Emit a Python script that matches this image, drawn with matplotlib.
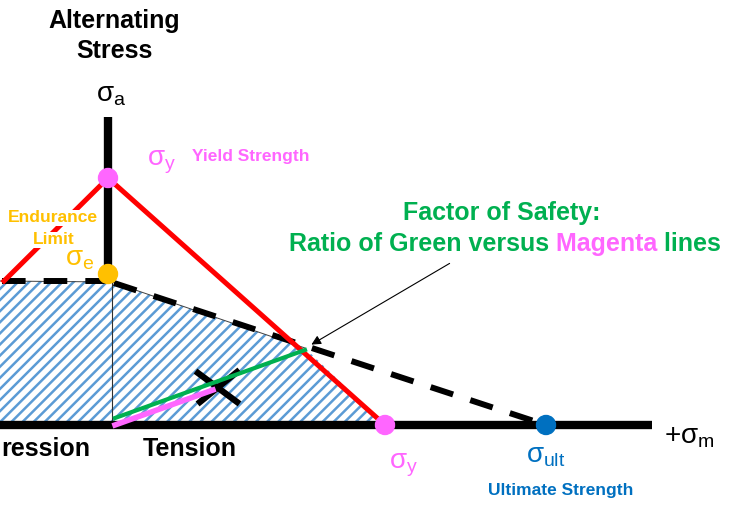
import matplotlib
matplotlib.use("Agg")
import matplotlib.pyplot as plt
from matplotlib.patches import Polygon, Circle

plt.rcParams['font.family'] = ['Liberation Sans', 'DejaVu Sans']
plt.rcParams['mathtext.fontset'] = 'custom'
plt.rcParams['mathtext.rm'] = 'Liberation Sans'
plt.rcParams['mathtext.it'] = 'Liberation Sans'
plt.rcParams['mathtext.bf'] = 'Liberation Sans:bold'
plt.rcParams['hatch.linewidth'] = 1.8
plt.rcParams['lines.scale_dashes'] = False

# ---- diagram values (canvas units, y grows downward) ----
origin = (108, 425)            # (sigma_m = 0, sigma_a = 0)
axis_x_end = 652
axis_y_top = 117
yield_a = (108, 178)           # yield strength on the alternating axis
yield_m = (385, 425)           # yield strength on the mean axis
endurance_dot = (108, 274)     # endurance limit marker
endurance_y = 281              # Goodman line height at sigma_m <= 0
ultimate = (546, 425)          # ultimate strength on the mean axis
left_edge = 2
red_left_start = (4, 281)
split_x = 112
op_point = (305, 348)          # operating limit point (Goodman / Langer crossing)
green_start = (115, 418)
magenta_line = [(115, 425), (213, 390)]
cross_a = [(198, 373), (237, 402)]
cross_b = [(200, 402), (237, 372)]
arrow_tail = (452, 262)
arrow_head = (309, 346)

C_RED = '#FF0000'
C_MAG = '#FF66FF'
C_ORANGE = '#FFC000'
C_BLUE = '#0070C0'
C_GREEN = '#00B050'
C_HATCH = '#5B9BD5'

fig = plt.figure(figsize=(7.40, 5.07), dpi=100)
ax = fig.add_axes([0, 0, 1, 1])
ax.set_xlim(0, 740)
ax.set_ylim(507, 0)
ax.axis('off')

# hatched safe region
left_poly = Polygon([(-10, endurance_y), (split_x, endurance_y), (split_x, origin[1]), (-10, origin[1])],
                    closed=True, facecolor='white', edgecolor=C_HATCH, hatch='///', lw=0, zorder=1)
ax.add_patch(left_poly)
right_poly = Polygon([(split_x, endurance_y + 1), op_point, yield_m, (split_x, origin[1])],
                     closed=True, facecolor='white', edgecolor=C_HATCH, hatch='///', lw=0, zorder=1)
ax.add_patch(right_poly)
# thin outlines
ax.plot([0, split_x, op_point[0]], [endurance_y, endurance_y + 1, op_point[1]], color='#404040', lw=0.7, zorder=2)
ax.plot([split_x, split_x], [endurance_y + 1, origin[1]], color='#303030', lw=0.8, zorder=2)

# dashed Goodman line
ax.plot([left_edge, origin[0]], [endurance_y, endurance_y], color='black', lw=4.3,
        dashes=(17, 13), zorder=3, dash_capstyle='butt')
ax.plot([origin[0] + 6, ultimate[0]], [endurance_y + 2, ultimate[1]], color='black', lw=4.3,
        dashes=(17, 13), zorder=3, dash_capstyle='butt')

# red yield (Langer) lines
ax.plot([red_left_start[0], yield_a[0], yield_m[0]], [red_left_start[1], yield_a[1], yield_m[1]],
        color=C_RED, lw=3.6, zorder=4, solid_joinstyle='miter')

# axes
ax.plot([origin[0], origin[0]], [axis_y_top, endurance_dot[1]], color='black', lw=6, zorder=5, solid_capstyle='butt')
ax.plot([0, axis_x_end], [origin[1], origin[1]], color='black', lw=6, zorder=5, solid_capstyle='butt')

# green / magenta lines
ax.plot([green_start[0], op_point[0]], [green_start[1], op_point[1] + 2], color=C_GREEN, lw=3, zorder=6)
ax.plot([p[0] for p in magenta_line], [p[1] for p in magenta_line], color=C_MAG, lw=4, zorder=6)

# cross
for seg in (cross_a, cross_b):
    ax.plot([seg[0][0], seg[1][0]], [seg[0][1], seg[1][1]], color='black', lw=4.5, zorder=5)

# dots
for (pt, col) in [(yield_a, C_MAG), (endurance_dot, C_ORANGE), (yield_m, C_MAG), (ultimate, C_BLUE)]:
    ax.add_patch(Circle(pt, 9.5, color=col, zorder=8))

# arrow
ax.annotate('', xy=arrow_head, xytext=arrow_tail,
            arrowprops=dict(arrowstyle='-|>', color='black', lw=0.8, mutation_scale=14), zorder=9)

# texts
ax.text(114, 21, 'Alternating', ha='center', va='center', fontsize=18, fontweight='bold')
ax.text(114, 51, 'Stress', ha='center', va='center', fontsize=18, fontweight='bold')
ax.text(96, 95, r'$\sigma_{\rm a}$', ha='left', va='center', fontsize=20, color='black')
ax.text(147, 162, r'$\sigma_{\rm y}$', ha='left', va='center', fontsize=20, color=C_MAG)
ax.text(192, 157, 'Yield Strength', ha='left', va='center', fontsize=12.5, fontweight='bold', color=C_MAG)
bb = dict(facecolor='white', edgecolor='none', pad=0.5)
ax.text(53, 218, 'Endurance', ha='center', va='center', fontsize=12.6, fontweight='bold',
        color=C_ORANGE, bbox=bb, zorder=7)
ax.text(54, 240, 'Limit', ha='center', va='center', fontsize=12.6, fontweight='bold',
        color=C_ORANGE, bbox=bb, zorder=7)
ax.text(65, 259, r'$\sigma_{\rm e}$', ha='left', va='center', fontsize=20, color=C_ORANGE, zorder=9)

ax.text(502, 213, 'Factor of Safety:', ha='center', va='center', fontsize=18, fontweight='bold', color=C_GREEN)
t1 = ax.text(289, 251, 'Ratio of Green versus', ha='left', va='baseline', fontsize=18,
             fontweight='bold', color=C_GREEN)
t2 = ax.annotate(' Magenta', xy=(1, 0), xycoords=t1, ha='left', va='bottom', fontsize=18,
                 fontweight='bold', color=C_MAG)
ax.annotate(' lines', xy=(1, 0), xycoords=t2, ha='left', va='bottom', fontsize=18,
            fontweight='bold', color=C_GREEN)

ax.text(1, 449, 'ression', ha='left', va='center', fontsize=18, fontweight='bold')
ax.text(143, 449, 'Tension', ha='left', va='center', fontsize=18, fontweight='bold')
ax.text(389, 465, r'$\sigma_{\rm y}$', ha='left', va='center', fontsize=20, color=C_MAG)
ax.text(526, 456, r'$\sigma_{\rm ult}$', ha='left', va='center', fontsize=20, color=C_BLUE)
ax.text(561, 490, 'Ultimate Strength', ha='center', va='center', fontsize=12.5, fontweight='bold', color=C_BLUE)
ax.text(664, 437, r'$+\sigma_{\rm m}$', ha='left', va='center', fontsize=20, color='black')

fig.savefig('out.png', dpi=100)
